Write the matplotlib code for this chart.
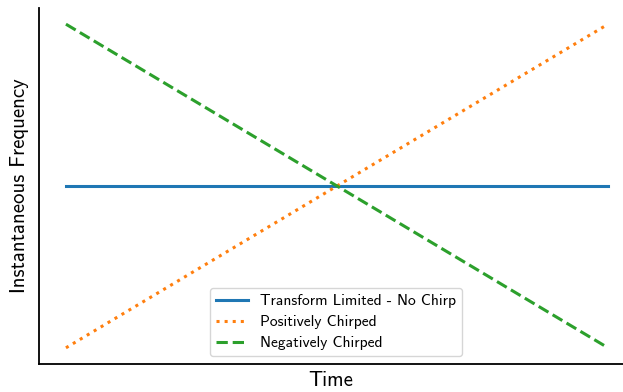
import matplotlib
matplotlib.use("Agg")
import matplotlib.pyplot as plt

plt.rcParams['font.family'] = ['cmss10', 'DejaVu Sans']
plt.rcParams['axes.unicode_minus'] = False

# Normalised time axis and frequency sweep for each pulse type
time = [0.0, 1.0]
transform_limited = [0.0, 0.0]
positive_chirp = [-1.0, 1.0]
negative_chirp = [1.0, -1.0]

labels = ["Transform Limited - No Chirp", "Positively Chirped", "Negatively Chirped"]

fig = plt.figure(figsize=(6.23, 3.92), dpi=100)
ax = fig.add_axes([39 / 623, 1 - 364 / 392, (623 - 39) / 623, (364 - 8) / 392])

ax.plot(time, transform_limited, color='#1f77b4', lw=2.2, ls='-', label=labels[0])
ax.plot(time, positive_chirp, color='#ff7f0e', lw=2.2, ls=':', label=labels[1])
ax.plot(time, negative_chirp, color='#2ca02c', lw=2.2, ls='--', label=labels[2])

ax.set_xlim(-27 / 543, 1 + 15 / 543)
ax.set_ylim(-1.1, 1.1)
ax.set_xticks([])
ax.set_yticks([])
for side in ('top', 'right'):
    ax.spines[side].set_visible(False)
for side in ('left', 'bottom'):
    ax.spines[side].set_linewidth(1.3)
    ax.spines[side].set_color('black')

ax.set_xlabel("Time", fontsize=15, labelpad=5)
ax.set_ylabel("Instantaneous Frequency", fontsize=15, labelpad=7)

ax.legend(loc='lower center', bbox_to_anchor=(0.509, 0.0), fontsize=11.2,
          labelspacing=0.45, framealpha=0.8)

fig.savefig("out.png", dpi=100)
